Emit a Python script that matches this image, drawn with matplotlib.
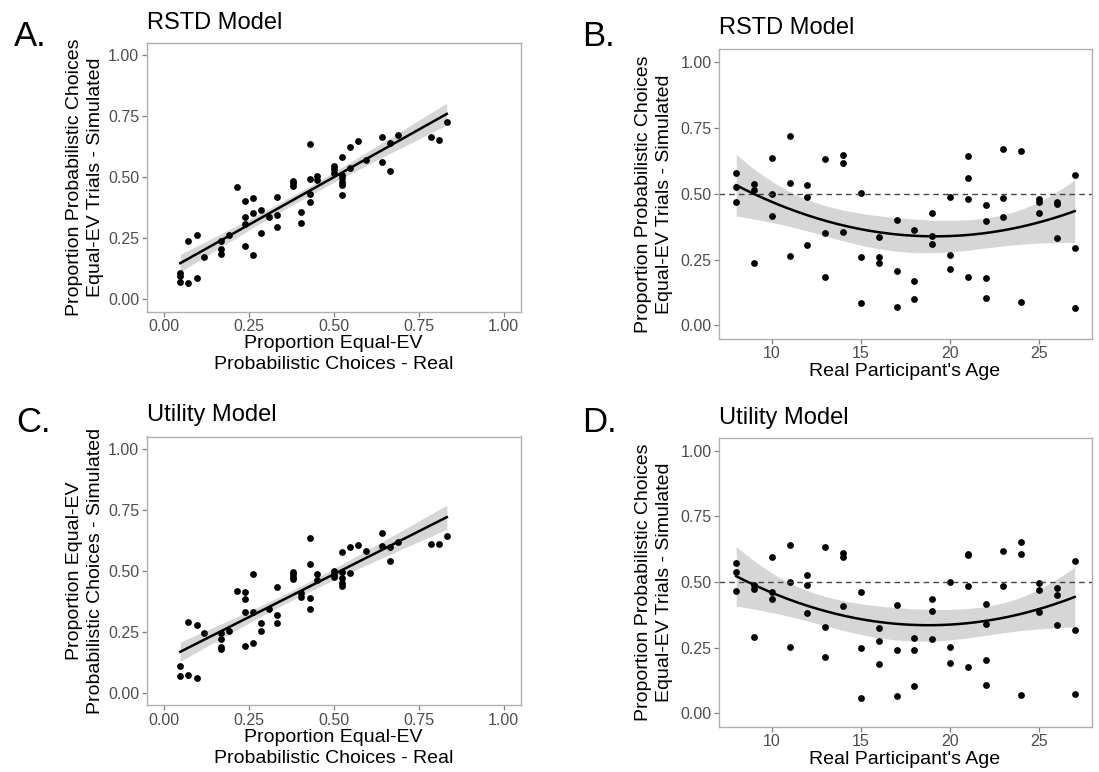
import numpy as np
import matplotlib
matplotlib.use("Agg")
import matplotlib.pyplot as plt

plt.rcParams['font.family'] = ['Liberation Sans', 'DejaVu Sans']

# Panel A / C: proportion of probabilistic choices, real vs simulated
real_prop_a = [0.048, 0.048, 0.048, 0.072, 0.072, 0.096, 0.096, 0.119, 0.167, 0.167,
               0.167, 0.191, 0.215, 0.239, 0.239, 0.239, 0.239, 0.262, 0.262, 0.262,
               0.286, 0.286, 0.309, 0.333, 0.333, 0.333, 0.381, 0.381, 0.381, 0.404,
               0.404, 0.429, 0.429, 0.429, 0.429, 0.452, 0.452, 0.500, 0.500, 0.500,
               0.523, 0.523, 0.523, 0.523, 0.523, 0.523, 0.547, 0.547, 0.571, 0.594,
               0.642, 0.642, 0.666, 0.666, 0.690, 0.786, 0.809, 0.833]
sim_prop_a = [0.107, 0.096, 0.072, 0.068, 0.240, 0.086, 0.262, 0.171, 0.238, 0.206,
              0.184, 0.265, 0.460, 0.404, 0.337, 0.309, 0.216, 0.415, 0.352, 0.183,
              0.366, 0.270, 0.335, 0.417, 0.343, 0.296, 0.485, 0.474, 0.462, 0.358,
              0.311, 0.634, 0.492, 0.432, 0.400, 0.503, 0.489, 0.546, 0.534, 0.516,
              0.583, 0.510, 0.496, 0.481, 0.466, 0.428, 0.623, 0.537, 0.646, 0.572,
              0.665, 0.563, 0.639, 0.527, 0.672, 0.663, 0.652, 0.724]

real_prop_c = [0.048, 0.048, 0.072, 0.072, 0.096, 0.096, 0.119, 0.167, 0.167, 0.167,
               0.167, 0.191, 0.215, 0.239, 0.239, 0.239, 0.239, 0.262, 0.262, 0.262,
               0.286, 0.286, 0.309, 0.333, 0.333, 0.333, 0.381, 0.381, 0.381, 0.381,
               0.404, 0.404, 0.429, 0.429, 0.429, 0.429, 0.452, 0.452, 0.500, 0.500,
               0.500, 0.523, 0.523, 0.523, 0.523, 0.523, 0.547, 0.547, 0.571, 0.594,
               0.642, 0.642, 0.666, 0.666, 0.690, 0.786, 0.809, 0.833]
sim_prop_c = [0.109, 0.068, 0.071, 0.291, 0.059, 0.277, 0.243, 0.243, 0.219, 0.189,
              0.178, 0.254, 0.417, 0.414, 0.384, 0.329, 0.191, 0.485, 0.332, 0.205,
              0.287, 0.254, 0.342, 0.434, 0.317, 0.284, 0.496, 0.485, 0.475, 0.466,
              0.410, 0.393, 0.635, 0.527, 0.387, 0.342, 0.485, 0.462, 0.500, 0.486,
              0.473, 0.575, 0.496, 0.469, 0.451, 0.439, 0.596, 0.489, 0.604, 0.582,
              0.654, 0.602, 0.596, 0.540, 0.617, 0.608, 0.608, 0.641]

# Panel B / D: simulated proportion by participant age
age_b = [8, 8, 8, 9, 9, 9, 10, 10, 10, 11, 11, 11, 12, 12, 12, 13, 13, 13,
         14, 14, 14, 15, 15, 15, 16, 16, 16, 17, 17, 17, 18, 18, 18, 19, 19, 19,
         20, 20, 20, 21, 21, 21, 21, 22, 22, 22, 22, 23, 23, 23, 24, 24,
         25, 25, 25, 26, 26, 26, 27, 27, 27]
sim_b = [0.581, 0.528, 0.470, 0.537, 0.515, 0.239, 0.635, 0.500, 0.415,
         0.721, 0.543, 0.264, 0.534, 0.490, 0.306, 0.632, 0.350, 0.184,
         0.648, 0.619, 0.355, 0.503, 0.261, 0.084, 0.335, 0.261, 0.236,
         0.402, 0.207, 0.071, 0.364, 0.170, 0.099, 0.426, 0.341, 0.310,
         0.490, 0.268, 0.213, 0.643, 0.561, 0.481, 0.183, 0.459, 0.398, 0.180, 0.103,
         0.670, 0.485, 0.414, 0.662, 0.090, 0.481, 0.468, 0.426,
         0.470, 0.462, 0.332, 0.570, 0.296, 0.067]

age_d = [8, 8, 8, 9, 9, 9, 10, 10, 10, 11, 11, 11, 12, 12, 12, 13, 13, 13,
         14, 14, 14, 15, 15, 15, 16, 16, 16, 17, 17, 17, 18, 18, 18, 19, 19, 19,
         20, 20, 20, 21, 21, 21, 21, 22, 22, 22, 22, 23, 23, 24, 24, 24,
         25, 25, 25, 26, 26, 26, 27, 27, 27]
sim_d = [0.574, 0.539, 0.467, 0.489, 0.472, 0.289, 0.595, 0.461, 0.434,
         0.640, 0.500, 0.254, 0.527, 0.490, 0.382, 0.635, 0.330, 0.216,
         0.609, 0.596, 0.410, 0.462, 0.250, 0.057, 0.327, 0.277, 0.188,
         0.414, 0.241, 0.066, 0.286, 0.241, 0.105, 0.435, 0.390, 0.282,
         0.499, 0.254, 0.192, 0.607, 0.602, 0.484, 0.176, 0.416, 0.341, 0.204, 0.108,
         0.618, 0.485, 0.654, 0.608, 0.069, 0.497, 0.470, 0.387,
         0.476, 0.450, 0.336, 0.582, 0.316, 0.072]

W, H = 1099, 772
fig = plt.figure(figsize=(W / 100, H / 100), dpi=100)


def px_axes(left, top, right, bottom):
    return fig.add_axes([left / W, 1 - bottom / H, (right - left) / W, (bottom - top) / H])


def px_text(x, y, s, **kw):
    fig.text(x / W, 1 - y / H, s, **kw)


def style(ax):
    for sp in ax.spines.values():
        sp.set_color('#b0b0b0')
        sp.set_linewidth(1.0)
    ax.tick_params(colors='#7f7f7f', labelcolor='#4d4d4d', labelsize=11.5,
                   length=3.5, width=0.9, pad=2)


def smooth(ax, x, y, degree):
    x = np.asarray(x, float)
    y = np.asarray(y, float)
    X = np.vander(x, degree + 1)
    beta = np.linalg.lstsq(X, y, rcond=None)[0]
    n = len(x)
    resid = y - X @ beta
    s2 = resid @ resid / (n - degree - 1)
    cov = s2 * np.linalg.inv(X.T @ X)
    xs = np.linspace(x.min(), x.max(), 200)
    Xs = np.vander(xs, degree + 1)
    fit = Xs @ beta
    se = np.sqrt(np.einsum('ij,jk,ik->i', Xs, cov, Xs))
    t = 2.0
    ax.fill_between(xs, fit - t * se, fit + t * se, color='#999999', alpha=0.4, lw=0, zorder=1)
    ax.plot(xs, fit, color='black', lw=1.8, zorder=3)


ticks01 = [0, 0.25, 0.5, 0.75, 1.0]
tick_lbl = ['0.00', '0.25', '0.50', '0.75', '1.00']

sim_label = 'Proportion Probabilistic Choices\nEqual-EV Trials - Simulated'
real_label = 'Proportion Equal-EV\nProbabilistic Choices - Real'
age_label = "Real Participant's Age"

# A
axA = px_axes(147, 42.7, 520.5, 311.5)
axA.scatter(real_prop_a, sim_prop_a, s=24, color='black', lw=0, zorder=2)
smooth(axA, real_prop_a, sim_prop_a, 1)

# C
axC = px_axes(147, 436.5, 520.5, 705)
axC.scatter(real_prop_c, sim_prop_c, s=24, color='black', lw=0, zorder=2)
smooth(axC, real_prop_c, sim_prop_c, 1)

for ax in (axA, axC):
    ax.set_xlim(-0.05, 1.05)
    ax.set_ylim(-0.05, 1.05)
    ax.set_xticks(ticks01, tick_lbl)
    ax.set_yticks(ticks01, tick_lbl)
    style(ax)

# B and D
for ax_box, ages, sims in [((719.3, 49.3, 1091.6, 338.5), age_b, sim_b),
                           ((719.3, 437.7, 1091.6, 726.5), age_d, sim_d)]:
    ax = px_axes(*ax_box)
    ax.scatter(ages, sims, s=24, color='black', lw=0, zorder=2)
    smooth(ax, ages, sims, 2)
    ax.axhline(0.5, color='#444444', lw=1.0, ls=(0, (4, 3)), zorder=2)
    ax.set_xlim(7.05, 27.95)
    ax.set_ylim(-0.05, 1.05)
    ax.set_xticks([10, 15, 20, 25])
    ax.set_yticks(ticks01, tick_lbl)
    style(ax)

# panel letters and titles
px_text(14, 37, 'A.', fontsize=25, va='center', ha='left')
px_text(582, 36, 'B.', fontsize=25, va='center', ha='left')
px_text(16, 423, 'C.', fontsize=25, va='center', ha='left')
px_text(582, 423, 'D.', fontsize=25, va='center', ha='left')

px_text(147, 23, 'RSTD Model', fontsize=17, va='center', ha='left')
px_text(719, 28, 'RSTD Model', fontsize=17, va='center', ha='left')
px_text(147, 415, 'Utility Model', fontsize=17, va='center', ha='left')
px_text(719, 418, 'Utility Model', fontsize=17, va='center', ha='left')

lab = dict(fontsize=14, va='center', ha='center', multialignment='center', linespacing=1.3)
px_text(85, 177, sim_label, rotation=90, **lab)
px_text(654, 194, sim_label, rotation=90, **lab)
px_text(85, 571, 'Proportion Equal-EV\nProbabilistic Choices - Simulated', rotation=90, **lab)
px_text(654, 582, sim_label, rotation=90, **lab)

px_text(333.5, 354, real_label, **lab)
px_text(333.5, 748, real_label, **lab)
px_text(905, 372, age_label, **lab)
px_text(905, 760, age_label, **lab)

fig.savefig('out.png', dpi=100, facecolor='white')
